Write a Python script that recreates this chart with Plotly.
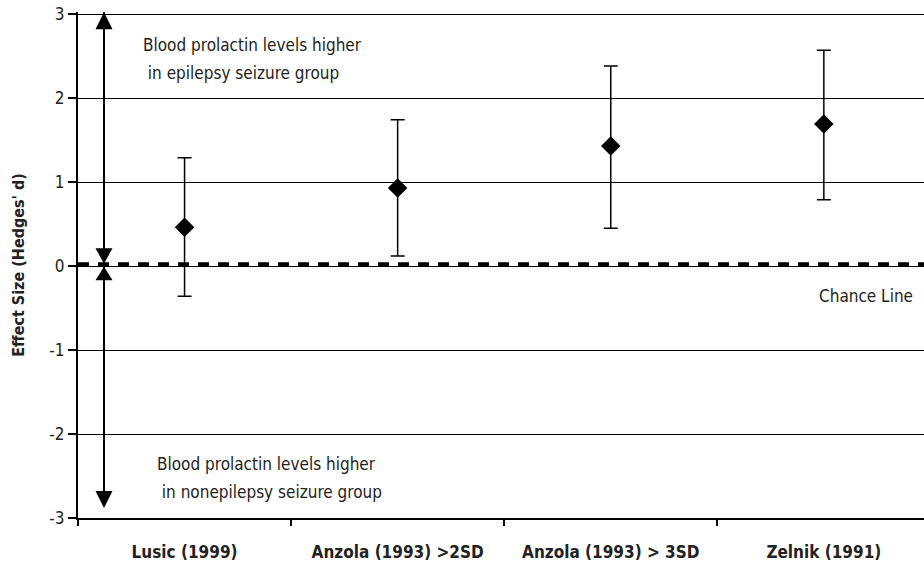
import plotly.graph_objects as go

studies = ["Lusic (1999)", "Anzola (1993) >2SD", "Anzola (1993) > 3SD", "Zelnik (1991)"]
effect = [0.46, 0.93, 1.43, 1.69]
upper = [1.29, 1.74, 2.38, 2.57]
lower = [-0.36, 0.12, 0.45, 0.79]
y_ticks = [-3, -2, -1, 0, 1, 2, 3]
y_ticktext = ["-3", "-2", "-1", "0", "1", "2", "3"]
chance_level = 0.02

FONT = "Liberation Sans Narrow, Arial Narrow, DejaVu Sans Condensed, sans-serif"
TXT = "#222222"

xpos = [i + 0.5 for i in range(len(studies))]
err_plus = [u - e for u, e in zip(upper, effect)]
err_minus = [e - l for e, l in zip(effect, lower)]

fig = go.Figure()

# chance line
fig.add_trace(go.Scatter(x=[0, 4], y=[chance_level, chance_level], mode="lines",
                         line=dict(color="black", width=4, dash="11px,9px"),
                         hoverinfo="skip", showlegend=False))

fig.add_trace(go.Scatter(
    x=xpos, y=effect, mode="markers",
    marker=dict(symbol="diamond", size=15, color="black"),
    error_y=dict(type="data", symmetric=False, array=err_plus, arrayminus=err_minus,
                 color="black", thickness=1.5, width=7),
    showlegend=False))

# double arrow
ax_x = 0.122
hw = 0.04
shapes = [
    dict(type="line", xref="x", yref="y", x0=ax_x, x1=ax_x, y0=3.02, y1=-2.85,
         line=dict(color="black", width=2)),
]
def tri(tip, base):
    return dict(type="path", xref="x", yref="y",
                path=f"M {ax_x-hw} {base} L {ax_x+hw} {base} L {ax_x} {tip} Z",
                fillcolor="black", line=dict(color="black", width=0))
shapes += [tri(3.02, 2.82), tri(0.03, 0.21), tri(-0.01, -0.17), tri(-2.88, -2.68)]
fig.update_layout(shapes=shapes)

ann = [
    dict(x=0.296, y=2.63, text="Blood prolactin levels higher", xanchor="left"),
    dict(x=0.296, y=2.30, text=" in epilepsy seizure group", xanchor="left"),
    dict(x=0.36, y=-2.36, text="Blood prolactin levels higher", xanchor="left"),
    dict(x=0.36, y=-2.69, text=" in nonepilepsy seizure group", xanchor="left"),
    dict(x=3.93, y=-0.36, text="Chance Line", xanchor="right"),
]
for a in ann:
    fig.add_annotation(xref="x", yref="y", showarrow=False, yanchor="middle",
                       font=dict(family=FONT, size=17, color=TXT), **a)

fig.update_layout(
    width=924, height=569,
    margin=dict(l=78, r=0, t=12, b=51),
    plot_bgcolor="white", paper_bgcolor="white",
    xaxis=dict(range=[0, 3.97], tickvals=xpos, ticktext=studies, ticks="",
               ticklabelstandoff=18,
               showgrid=False, zeroline=False, showline=True, linecolor="black", linewidth=2,
               tickfont=dict(family=FONT, size=17, color=TXT, weight="bold"),
               minor=dict(tickvals=[0, 1, 2, 3], ticks="outside", ticklen=6, tickwidth=2,
                          tickcolor="black", showgrid=False)),
    yaxis=dict(range=[-3, 3.024], tickvals=y_ticks, ticktext=y_ticktext, ticks="outside",
               ticklen=8, tickwidth=2,
               tickcolor="black", showgrid=True, gridcolor="black", gridwidth=1,
               zeroline=False, showline=True, linecolor="black", linewidth=2,
               tickfont=dict(family=FONT, size=17, color=TXT),
               title=dict(text="Effect Size (Hedges' d)", standoff=21,
                          font=dict(family=FONT, size=16, color=TXT, weight="bold"))),
)

fig.write_html("out.html", config={"displayModeBar": False},
               post_script="document.body.style.margin='0';document.body.style.overflow='hidden';")
